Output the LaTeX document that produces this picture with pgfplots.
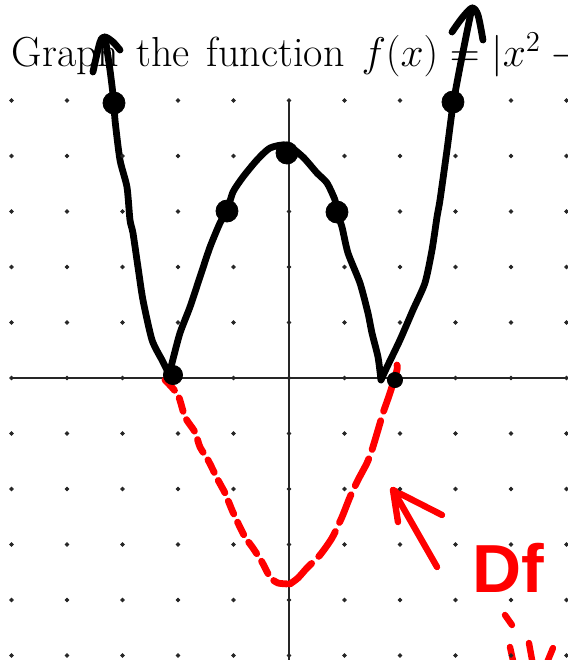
\documentclass[border=0pt]{standalone}
\usepackage{pgfplots}
\pgfplotsset{compat=1.18}
\usepackage{fontspec}
\newfontfamily\handfont{Liberation Sans}

\definecolor{ink}{RGB}{0,0,0}
\definecolor{pen}{RGB}{255,0,0}

\begin{document}
\begin{tikzpicture}
\begin{axis}[
  x=27.75pt, y=27.75pt,
  xmin=-5.207, xmax=5.027, ymin=-5.081, ymax=6.811,
  axis lines=none,
  clip=false,
]
% dotted grid paper
\addplot[only marks, mark=*, mark size=0.95pt, black!85] coordinates {
(-5,5)(-4,5)(-3,5)(-2,5)(-1,5)(0,5)(1,5)(2,5)(3,5)(4,5)(5,5)
(-5,4)(-4,4)(-3,4)(-2,4)(-1,4)(0,4)(1,4)(2,4)(3,4)(4,4)(5,4)
(-5,3)(-4,3)(-3,3)(-2,3)(-1,3)(0,3)(1,3)(2,3)(3,3)(4,3)(5,3)
(-5,2)(-4,2)(-3,2)(-2,2)(-1,2)(0,2)(1,2)(2,2)(3,2)(4,2)(5,2)
(-5,1)(-4,1)(-3,1)(-2,1)(-1,1)(0,1)(1,1)(2,1)(3,1)(4,1)(5,1)
(-5,0)(-4,0)(-3,0)(-2,0)(-1,0)(0,0)(1,0)(2,0)(3,0)(4,0)(5,0)
(-5,-1)(-4,-1)(-3,-1)(-2,-1)(-1,-1)(0,-1)(1,-1)(2,-1)(3,-1)(4,-1)(5,-1)
(-5,-2)(-4,-2)(-3,-2)(-2,-2)(-1,-2)(0,-2)(1,-2)(2,-2)(3,-2)(4,-2)(5,-2)
(-5,-3)(-4,-3)(-3,-3)(-2,-3)(-1,-3)(0,-3)(1,-3)(2,-3)(3,-3)(4,-3)(5,-3)
(-5,-4)(-4,-4)(-3,-4)(-2,-4)(-1,-4)(0,-4)(1,-4)(2,-4)(3,-4)(4,-4)(5,-4)
(-5,-5)(-4,-5)(-3,-5)(-2,-5)(-1,-5)(0,-5)(1,-5)(2,-5)(3,-5)(4,-5)(5,-5)
};
% coordinate axes
\addplot[black!85, line width=0.7pt] coordinates {(-5,0)(5.2,0)};
\addplot[black!85, line width=0.7pt] coordinates {(0,5)(0,-5.2)};

% heading
\node[anchor=base west, inner sep=0pt, font=\fontsize{21}{25}\selectfont]
  at (axis cs:-5.0,5.604)
  {\spaceskip=8.5pt\relax Graph the function $f(x) = |x^2 - 4|$};

% dashed reflection of the negative part (left half, short dashes)
\addplot[pen, line width=3.4pt, line cap=round, dash pattern=on 7pt off 4.5pt, smooth, tension=0.4]
coordinates {
(-2.234,-0.036)(-2.000,-0.306)(-1.874,-0.703)(-1.694,-0.973)(-1.604,-1.243)
(-1.459,-1.477)(-1.279,-1.838)(-1.153,-2.072)(-1.027,-2.378)(-0.919,-2.613)
(-0.793,-2.865)(-0.649,-3.063)(-0.486,-3.315)(-0.342,-3.586)(-0.198,-3.694)
(0.018,-3.712)
};
% right half, longer strokes
\addplot[pen, line width=3.4pt, line cap=round, dash pattern=on 15pt off 5pt, smooth, tension=0.4]
coordinates {
(0.018,-3.712)(0.162,-3.604)(0.324,-3.423)(0.559,-3.189)(0.775,-2.883)
(0.955,-2.505)(1.099,-2.144)(1.243,-1.838)(1.405,-1.532)(1.495,-1.297)
(1.604,-0.937)(1.694,-0.631)(1.820,-0.270)(1.946,0.144)(1.946,0.234)
};

% graph of |x^2-4|, left branch
\addplot[ink, line width=3.4pt, line cap=round, line join=round, smooth, tension=0.4]
coordinates {
(-3.315,6.144)(-3.225,5.550)(-3.153,4.955)(-3.135,4.649)(-3.045,3.928)
(-2.919,3.441)(-2.865,2.847)(-2.811,2.613)(-2.721,2.000)(-2.631,1.405)
(-2.468,0.685)(-2.288,0.324)(-2.198,0.144)(-2.144,0.018)
};
% middle hump
\addplot[ink, line width=3.4pt, line cap=round, line join=round, smooth, tension=0.4]
coordinates {
(-2.160,0.050)(-2.100,0.300)(-1.964,0.811)(-1.784,1.279)(-1.604,1.820)
(-1.423,2.360)(-1.243,2.793)(-1.117,3.009)(-1.009,3.351)(-0.829,3.622)
(-0.577,3.928)(-0.342,4.144)(-0.036,4.198)(0.252,3.982)(0.505,3.694)
(0.685,3.514)(0.829,3.207)(0.865,2.991)(0.955,2.721)(1.063,2.252)
(1.279,1.712)(1.423,1.171)(1.495,0.811)(1.604,0.378)(1.658,-0.036)
};
% right branch
\addplot[ink, line width=3.4pt, line cap=round, line join=round, smooth, tension=0.4]
coordinates {
(1.658,-0.036)(1.766,0.198)(2.000,0.685)(2.234,1.225)(2.450,1.712)
(2.577,2.306)(2.667,2.901)(2.721,3.207)(2.847,4.108)(2.955,4.919)
(3.081,5.604)(3.225,6.324)(3.297,6.667)
};
% arrow heads
\addplot[ink, line width=3.4pt, line cap=round, line join=round, smooth, tension=0.5]
coordinates {(-3.532,5.514)(-3.405,6.054)(-3.315,6.144)(-3.171,6.054)(-3.045,5.910)};
\addplot[ink, line width=3.4pt, line cap=round, line join=round, smooth, tension=0.5]
coordinates {(2.937,6.234)(3.117,6.486)(3.297,6.667)(3.405,6.541)(3.495,6.090)};

% plotted points
\addplot[only marks, mark=*, mark size=5.5pt, ink] coordinates {
(-3.153,4.955)(-1.117,3.009)(-0.036,4.054)(0.865,2.991)(2.955,4.973)
};
\addplot[only marks, mark=*, mark size=4.8pt, ink] coordinates {(-2.090,0.054)};
\addplot[only marks, mark=*, mark size=3.8pt, ink] coordinates {(1.910,-0.036)};

% red annotation arrow
\addplot[pen, line width=3.2pt, line cap=round, line join=round]
coordinates {(2.667,-3.405)(1.874,-2.018)};
\addplot[pen, line width=3.2pt, line cap=round, line join=round]
coordinates {(2.757,-2.468)(1.874,-2.018)(1.964,-2.595)};

% red note
\node[pen, anchor=center, inner sep=0pt, font=\handfont\bfseries\fontsize{34}{36}\selectfont]
  at (axis cs:3.95,-3.423) {Df};
\addplot[pen, line width=3.2pt, line cap=round] coordinates {(3.892,-4.270)(4.018,-4.450)};
\addplot[pen, line width=3.2pt, line cap=round] coordinates {(3.982,-4.847)(4.054,-5.170)};
\addplot[pen, line width=3.2pt, line cap=round] coordinates {(4.324,-4.775)(4.396,-5.170)};
\addplot[pen, line width=3.2pt, line cap=round] coordinates {(4.757,-4.865)(4.631,-5.170)};
\end{axis}
\pgfresetboundingbox
\path[use as bounding box] (current axis.south west) rectangle (current axis.north east);
\end{tikzpicture}
\end{document}
